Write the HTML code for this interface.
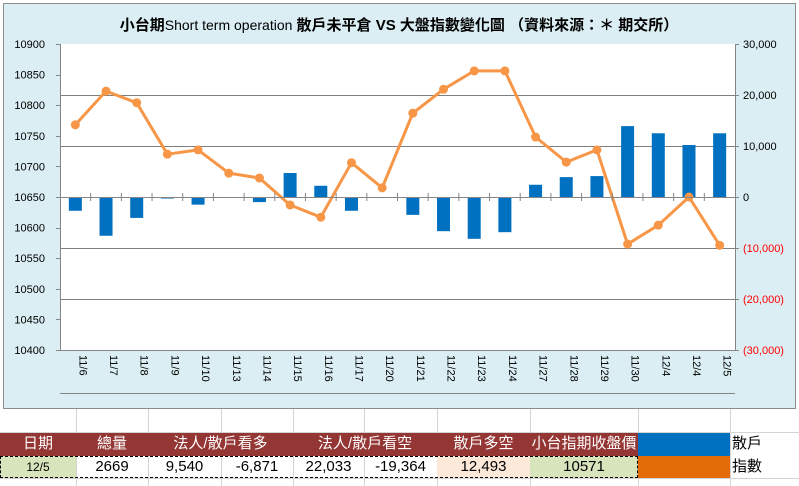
<!DOCTYPE html>
<html><head><meta charset="utf-8">
<style>
body{margin:0;width:799px;height:486px;overflow:hidden;background:#fff;font-family:"Liberation Sans","Noto Sans CJK TC",sans-serif;}
#wrap{position:relative;width:799px;height:486px;}
.cell{position:absolute;box-sizing:border-box;text-align:center;font-size:15px;line-height:22px;}
</style></head>
<body>
<div id="wrap">
<svg id="chart" width="799" height="486" style="position:absolute;left:0;top:0">
  <rect x="0" y="0" width="799" height="486" fill="#fff"/>
  <g stroke="#d4d4d4" stroke-width="1">
    <line x1="0" y1="432.5" x2="799" y2="432.5"/><line x1="0" y1="478.5" x2="799" y2="478.5"/>
    <line x1="76.5" y1="408" x2="76.5" y2="486"/><line x1="148.5" y1="408" x2="148.5" y2="486"/>
    <line x1="221.5" y1="408" x2="221.5" y2="486"/><line x1="293.5" y1="408" x2="293.5" y2="486"/>
    <line x1="364.5" y1="408" x2="364.5" y2="486"/><line x1="437.5" y1="408" x2="437.5" y2="486"/>
    <line x1="530.5" y1="408" x2="530.5" y2="486"/><line x1="638.5" y1="408" x2="638.5" y2="486"/>
    <line x1="730.5" y1="408" x2="730.5" y2="486"/>
  </g>
  <rect x="3.5" y="3.5" width="792" height="405" fill="#DAEEF3" stroke="#8c8c8c"/>
  <text x="399" y="30" text-anchor="middle" font-size="15" font-weight="bold" fill="#000">小台期<tspan font-weight="normal" font-size="14">Short term operation</tspan> 散戶未平倉 VS 大盤指數變化圖 （資料來源：＊ 期交所）</text>
  <rect x="60" y="44" width="675" height="306" fill="#fff"/>
  <g id="grid"></g>
  <g id="bars"></g>
  <g id="line"></g>
  <g id="axes"></g>
</svg>
<div class="cell" style="left:0;top:433px;width:638px;height:23px;background:#943634"></div>
<div class="cell" style="left:0;top:433px;width:76px;color:#fff">日期</div>
<div class="cell" style="left:76px;top:433px;width:72px;color:#fff">總量</div>
<div class="cell" style="left:148px;top:433px;width:145px;color:#fff">法人/散戶看多</div>
<div class="cell" style="left:293px;top:433px;width:144px;color:#fff">法人/散戶看空</div>
<div class="cell" style="left:437px;top:433px;width:93px;color:#fff">散戶多空</div>
<div class="cell" style="left:530px;top:433px;width:108px;color:#fff">小台指期收盤價</div>
<div class="cell" style="left:638px;top:433px;width:92px;height:23px;background:#0070C0"></div>
<div class="cell" style="left:730px;top:433px;width:40px;text-align:left;padding-left:2px">散戶</div>
<div class="cell" style="left:0;top:456px;width:76px;height:22px;background:#D8E4BC;font-size:12px">12/5</div>
<div class="cell" style="left:76px;top:456px;width:72px">2669</div>
<div class="cell" style="left:148px;top:456px;width:73px">9,540</div>
<div class="cell" style="left:221px;top:456px;width:72px">-6,871</div>
<div class="cell" style="left:293px;top:456px;width:71px">22,033</div>
<div class="cell" style="left:364px;top:456px;width:73px">-19,364</div>
<div class="cell" style="left:437px;top:456px;width:93px;height:22px;background:#FDE9D9">12,493</div>
<div class="cell" style="left:530px;top:456px;width:108px;height:22px;background:#D8E4BC">10571</div>
<div class="cell" style="left:0;top:456px;width:638px;height:22px;border:1px dashed #000"></div>
<div class="cell" style="left:638px;top:456px;width:92px;height:22px;background:#E36C09"></div>
<div class="cell" style="left:730px;top:456px;width:40px;text-align:left;padding-left:2px">指數</div>
</div>
<script>
const categories=["11/6","11/7","11/8","11/9","11/10","11/13","11/14","11/15","11/16","11/17","11/20","11/21","11/22","11/23","11/24","11/27","11/28","11/29","11/30","12/4","12/4","12/5"];
const indexValues=[10768,10823,10804,10720,10727,10689,10681,10637,10617,10706,10665,10787,10826,10856,10856,10748,10707,10727,10573,10604,10650,10571];
const retailValues=[-2700,-7600,-4100,-300,-1500,-200,-1000,4700,2200,-2700,-200,-3500,-6700,-8200,-6900,2400,3900,4100,13900,12500,10200,12493];
const leftTicks=[10400,10450,10500,10550,10600,10650,10700,10750,10800,10850,10900];
const rightTicks=[-30000,-20000,-10000,0,10000,20000,30000];
const NS="http://www.w3.org/2000/svg";
const X0=60,X1=735,Y0=44,Y1=350;
const bw=(X1-X0)/categories.length;
const xc=i=>X0+bw*(i+0.5);
const yL=v=>Y1-(v-10400)/500*(Y1-Y0);
const yR=v=>Y1-(v+30000)/60000*(Y1-Y0);
function mk(tag,attrs,parent){const e=document.createElementNS(NS,tag);for(const k in attrs)e.setAttribute(k,attrs[k]);parent.appendChild(e);return e;}
const grid=document.getElementById('grid'),bars=document.getElementById('bars'),line=document.getElementById('line'),axes=document.getElementById('axes');
rightTicks.forEach(t=>{
  if(t===0||Math.abs(t)===30000)return;
  const g=mk('line',{x1:X0,x2:X1,y1:Math.round(yR(t))+0.5,y2:Math.round(yR(t))+0.5,stroke:'#7f7f7f'},grid);
  
  
});
retailValues.forEach((v,i)=>{
  const y0=yR(0),y=yR(v);
  const r=mk('rect',{x:xc(i)-6.5,y:Math.min(y0,y),width:13,height:Math.max(1,Math.abs(y-y0)),fill:'#0070C0'},bars);
  
  
});
const pts=indexValues.map((v,i)=>xc(i).toFixed(1)+','+yL(v).toFixed(1)).join(' ');
const pl=mk('polyline',{points:pts,fill:'none',stroke:'#F79646',"stroke-width":3,"stroke-linejoin":'round'},line);


indexValues.forEach((v,i)=>{
  const c=mk('circle',{cx:xc(i),cy:yL(v),r:4.5,fill:'#F79646'},line);
  
  
});
// axes
const ax=[['line',{x1:X0+0.5,x2:X0+0.5,y1:Y0,y2:Y1,stroke:'#868686'}],['line',{x1:X1+0.5,x2:X1+0.5,y1:Y0,y2:Y1,stroke:'#868686'}],['line',{x1:X0,x2:X1,y1:Y1+0.5,y2:Y1+0.5,stroke:'#868686'}],['line',{x1:X0,x2:X1,y1:393.5,y2:393.5,stroke:'#868686'}],['line',{x1:X0,x2:X1,y1:Math.round(yR(0))+0.5,y2:Math.round(yR(0))+0.5,stroke:'#868686'}]];
ax.forEach(a=>{const e=mk(a[0],a[1],axes);});
leftTicks.forEach(t=>{
  const e=mk('text',{x:45,y:yL(t)+4,"text-anchor":'end',"font-size":11,fill:'#000'},axes);
  e.textContent=t;
  
  
  mk('line',{x1:X0-4,x2:X0,y1:Math.round(yL(t))+0.5,y2:Math.round(yL(t))+0.5,stroke:'#868686'},axes);
});
rightTicks.forEach(t=>{
  const e=mk('text',{x:743,y:yR(t)+4,"font-size":11,fill:t<0?'#ff0000':'#000'},axes);
  e.textContent=t<0?'('+Math.abs(t).toLocaleString('en-US')+')':t.toLocaleString('en-US');
  
  
  mk('line',{x1:X1,x2:X1+4,y1:Math.round(yR(t))+0.5,y2:Math.round(yR(t))+0.5,stroke:'#868686'},axes);
});
categories.forEach((c,i)=>{
  if(i>0)mk('line',{x1:X0+bw*i,x2:X0+bw*i,y1:yR(0)-4,y2:yR(0)+4,stroke:'#868686'},axes);
  const e=mk('text',{x:0,y:0,"font-size":11,fill:'#000',transform:'translate('+(xc(i)+4)+',355) rotate(90)'},axes);
  e.textContent=c;
  
  
});
</script>
</body></html>
